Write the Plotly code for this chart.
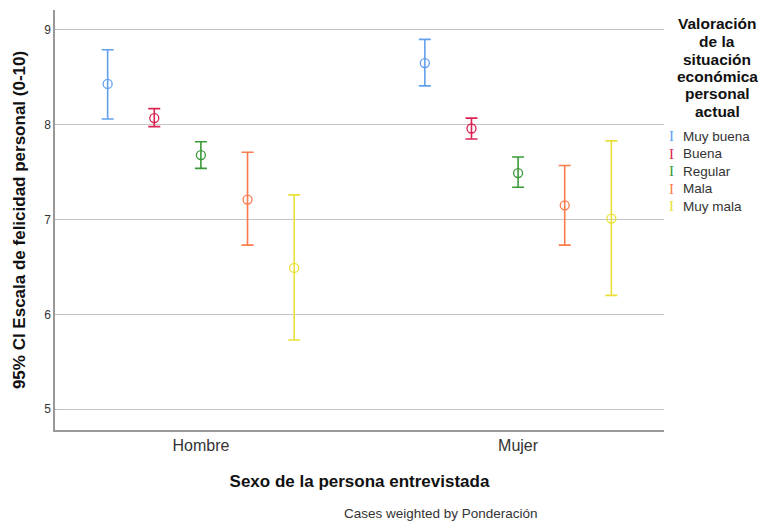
import plotly.graph_objects as go

categories = ["Hombre", "Mujer"]
series = ["Muy buena", "Buena", "Regular", "Mala", "Muy mala"]
colors = ["#62a0ee", "#d92552", "#3a9a3a", "#fb7b4c", "#e9e03a"]

# mean, upper CI, lower CI per series, [Hombre, Mujer]
means = {
    "Muy buena": [8.43, 8.65],
    "Buena": [8.07, 7.96],
    "Regular": [7.68, 7.49],
    "Mala": [7.21, 7.15],
    "Muy mala": [6.49, 7.01],
}
upper = {
    "Muy buena": [8.79, 8.90],
    "Buena": [8.17, 8.07],
    "Regular": [7.82, 7.66],
    "Mala": [7.71, 7.57],
    "Muy mala": [7.26, 7.83],
}
lower = {
    "Muy buena": [8.06, 8.41],
    "Buena": [7.98, 7.85],
    "Regular": [7.54, 7.34],
    "Mala": [6.73, 6.73],
    "Muy mala": [5.73, 6.20],
}
yticks = [5, 6, 7, 8, 9]
legend_title_lines = ["Valoración", "de la", "situación", "económica", "personal", "actual"]

FONT = "Liberation Sans, Arial, sans-serif"
group_step = 0.147

W, H = 763, 522
L, R, T, B = 55, 99, 10, 92
PW, PH = W - L - R, H - T - B


def px_x(px):
    return (px - L) / PW


def px_y(py):
    return (H - B - py) / PH


fig = go.Figure()
n = len(series)
for i, s in enumerate(series):
    off = (i - (n - 1) / 2) * group_step
    xs = [j + off for j in range(len(categories))]
    m = means[s]
    fig.add_trace(go.Scatter(
        x=xs, y=m, mode="markers", name=s, showlegend=False,
        marker=dict(symbol="circle-open", size=9, color=colors[i], line=dict(width=1.3, color=colors[i])),
        error_y=dict(type="data", symmetric=False,
                     array=[u - v for u, v in zip(upper[s], m)],
                     arrayminus=[v - l for v, l in zip(m, lower[s])],
                     color=colors[i], thickness=1.6, width=6),
        hoverinfo="skip",
    ))

annotations = []
# legend title (tight line spacing)
for k, line in enumerate(legend_title_lines):
    annotations.append(dict(
        text=f"<b>{line}</b>", x=px_x(717), y=px_y(24 + k * 17.5), xref="paper", yref="paper",
        xanchor="center", yanchor="middle", showarrow=False, borderpad=0,
        font=dict(size=15.5, color="#111")))
# legend items
for i, s in enumerate(series):
    yy = px_y(136 + i * 17.6)
    annotations.append(dict(
        text="I", x=px_x(671), y=yy, xref="paper", yref="paper", xanchor="center", yanchor="middle",
        showarrow=False, font=dict(size=15, color=colors[i], family="Liberation Serif, serif")))
    annotations.append(dict(
        text=s, x=px_x(681), y=yy, xref="paper", yref="paper", xanchor="left", yanchor="middle",
        showarrow=False, font=dict(size=13.5, color="#333")))
annotations.append(dict(
    text="Cases weighted by Ponderación", x=px_x(441), y=px_y(513), xref="paper", yref="paper",
    xanchor="center", yanchor="middle", showarrow=False, font=dict(size=13.5, color="#333")))

fig.update_layout(
    width=W, height=H,
    margin=dict(l=L, r=R, t=T, b=B),
    showlegend=False,
    paper_bgcolor="white", plot_bgcolor="white",
    font=dict(family=FONT, color="#222"),
    xaxis=dict(
        range=[-0.46, 1.46], tickvals=list(range(len(categories))), ticktext=categories,
        showgrid=False, zeroline=False, showline=True, linecolor="#999", linewidth=1.5,
        ticks="", tickfont=dict(size=16, color="#333"),
        title=dict(text="<b>Sexo de la persona entrevistada</b>", font=dict(size=17, color="#111"), standoff=22),
    ),
    yaxis=dict(
        range=[4.78, 9.21], tickvals=yticks, ticktext=[str(t) for t in yticks],
        showgrid=True, gridcolor="#c4c4c4", gridwidth=1, zeroline=False,
        showline=True, linecolor="#999", linewidth=1.5,
        ticks="inside", ticklen=3, tickcolor="#bbb",
        tickfont=dict(size=12, color="#333"),
        title=dict(text="<b>95% CI Escala de felicidad personal (0-10)</b>", font=dict(size=17, color="#111"), standoff=14),
    ),
    annotations=annotations,
)

fig.write_html("out.html", config={"displayModeBar": False},
               post_script="document.body.style.margin='0';")
